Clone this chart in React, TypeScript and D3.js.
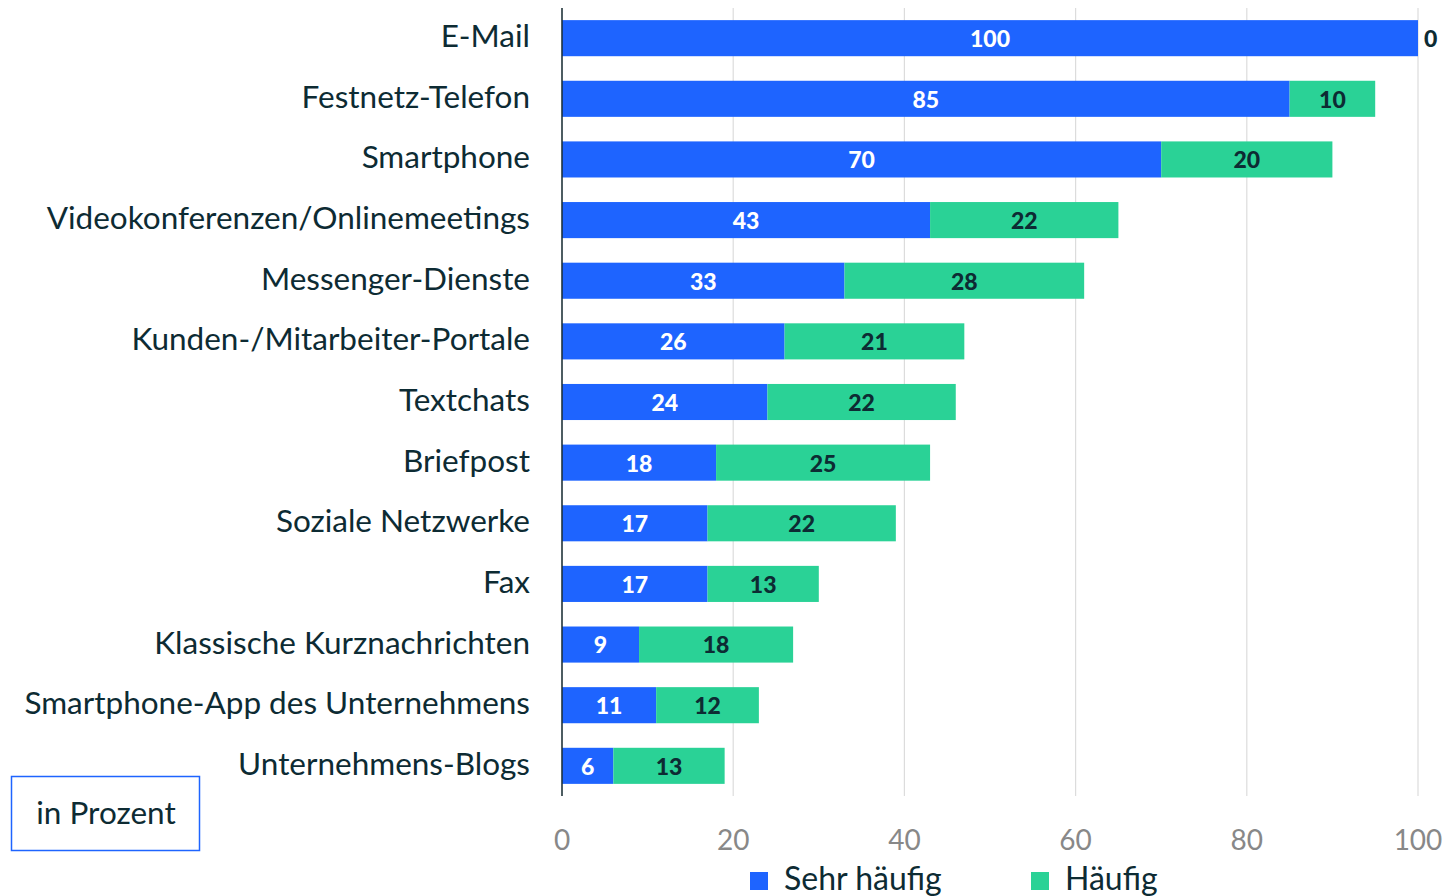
import React from "react";
import * as d3 from "d3";

const categories = [
  "E-Mail",
  "Festnetz-Telefon",
  "Smartphone",
  "Videokonferenzen/Onlinemeetings",
  "Messenger-Dienste",
  "Kunden-/Mitarbeiter-Portale",
  "Textchats",
  "Briefpost",
  "Soziale Netzwerke",
  "Fax",
  "Klassische Kurznachrichten",
  "Smartphone-App des Unternehmens",
  "Unternehmens-Blogs",
];
const sehrHaeufig = [100, 85, 70, 43, 33, 26, 24, 18, 17, 17, 9, 11, 6];
const haeufig = [0, 10, 20, 22, 28, 21, 22, 25, 22, 13, 18, 12, 13];
const ticks = [0, 20, 40, 60, 80, 100];
const seriesNames = ["Sehr häufig", "Häufig"];
const colors = ["#1e64ff", "#2ad296"];

const W = 1448;
const H = 896;
const FONT = "Lato, 'Noto Sans', sans-serif";
const TEXT = "#0d2b33";

export default function App() {
  const x = d3.scaleLinear().domain([0, 100]).range([562, 1418]);
  const y = d3.scaleBand().domain(categories).range([8, 796]).paddingInner(0.405).paddingOuter(0.2);
  const bh = y.bandwidth();

  return (
    <svg width={W} height={H} style={{ position: "absolute", left: 0, top: 0 }} fontFamily={FONT}>
      {ticks.map((t) => (
        <line key={"g" + t} x1={x(t)} x2={x(t)} y1={8} y2={796} stroke="#dcdcdc" strokeWidth={1.2} />
      ))}
      {categories.map((c, i) => {
        const y0 = y(c)!;
        const a = sehrHaeufig[i];
        const b = haeufig[i];
        const ly = y0 + bh / 2 + 3;
        return (
          <g key={c}>
            <rect x={x(0)} y={y0} width={x(a) - x(0)} height={bh} fill={colors[0]} />
            {b > 0 && <rect x={x(a)} y={y0} width={x(a + b) - x(a)} height={bh} fill={colors[1]} />}
            <text x={(x(0) + x(a)) / 2} y={ly} textAnchor="middle" dominantBaseline="middle"
              fill="#ffffff" fontWeight={900} fontSize={23}>{a}</text>
            {b > 0 ? (
              <text x={(x(a) + x(a + b)) / 2} y={ly} textAnchor="middle" dominantBaseline="middle"
                fill={TEXT} fontWeight={900} fontSize={23}>{b}</text>
            ) : (
              <text x={x(a) + 6} y={ly} textAnchor="start" dominantBaseline="middle"
                fill={TEXT} fontWeight={900} fontSize={23}>{b}</text>
            )}
            <text x={530} y={y0 + bh / 2 + 1} textAnchor="end" dominantBaseline="middle"
              fill={TEXT} fontSize={31.5}>{c}</text>
          </g>
        );
      })}
      <line x1={x(0)} x2={x(0)} y1={8} y2={796} stroke="#1a2e35" strokeWidth={1.5} />
      {ticks.map((t) => (
        <text key={"t" + t} x={x(t)} y={843} textAnchor="middle" dominantBaseline="middle"
          fill="#888888" fontSize={28}>{t}</text>
      ))}
      <rect x={11.5} y={776.5} width={188} height={74} fill="none" stroke={colors[0]} strokeWidth={1.5} />
      <text x={106} y={816} textAnchor="middle" dominantBaseline="middle" fill={TEXT} fontSize={31.5}>in Prozent</text>
      {seriesNames.map((s, i) => {
        const lx = i === 0 ? 750 : 1031;
        return (
          <g key={s}>
            <rect x={lx} y={872} width={18} height={18} fill={colors[i]} />
            <text x={lx + 34} y={882} dominantBaseline="middle" fill={TEXT} fontSize={32}>{s}</text>
          </g>
        );
      })}
    </svg>
  );
}
